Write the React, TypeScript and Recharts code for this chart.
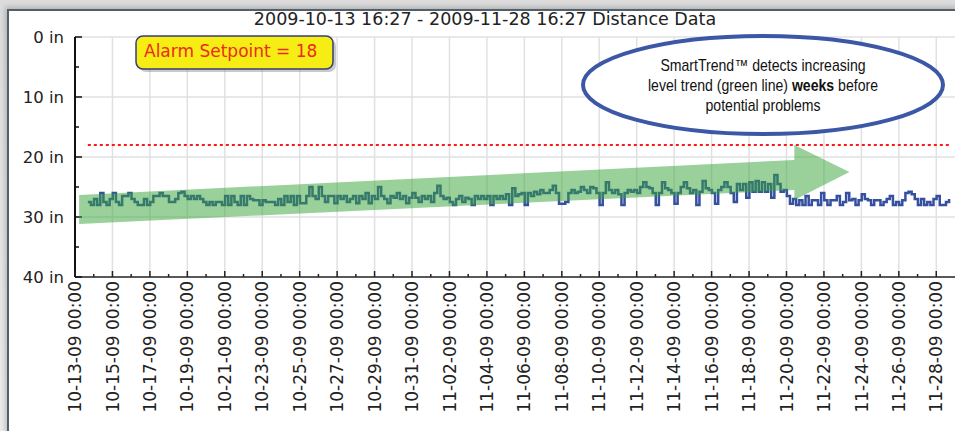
import React from "react";
import { ComposedChart, Line, Area, XAxis, YAxis, ReferenceLine } from "recharts";

// days are counted from 2009-10-13 00:00
const START_DAY = 0.685; // 16:27
const STEP_DAYS = 1 / 6; // one reading every 4 hours
const ALARM = 18;

const week1 = [27.5, 28, 27, 28, 26, 27.5, 28, 27, 26, 27.5, 28, 26.5, 26.5, 26, 27, 27.5, 28, 28, 27, 28, 27.5, 26.5, 26.5, 26, 26.5, 26.5, 27.5, 27.5, 27, 26, 25.8, 26.5, 27, 26.5, 27, 26.5, 27, 27.5, 28, 27.5, 28, 27.5];
const week2 = [27.5, 28, 26.5, 28, 26.5, 27.5, 28, 26.5, 28, 26.5, 27, 27.2, 27.2, 28, 27.2, 27.5, 27.5, 27.5, 28, 27, 28, 26.5, 27.5, 26.5, 28, 26.5, 27.7, 27.7, 26.5, 25, 26.5, 27, 25, 26.5, 27.5, 26.5, 26.5, 27.7, 26.5, 27, 26.5, 27.5];
const week3 = [27, 26.5, 27.7, 26.5, 27, 26, 27.7, 26.5, 27, 25, 26.5, 27, 27.7, 26.5, 26.8, 26, 27, 26.5, 27.7, 26.8, 26, 26.8, 27.5, 26.5, 27, 26.5, 27.5, 26, 24.8, 26.5, 27, 26.8, 27.5, 28, 27, 26.5, 27.5, 26.8, 27, 28, 26.5, 27];
const week4 = [26.5, 27, 26.5, 28, 26.5, 27, 26.5, 27, 26.2, 28, 25.2, 26.5, 26.2, 26, 28, 26, 26.5, 25.8, 26.2, 25.5, 26, 26, 25.5, 24.8, 26, 27.8, 27.8, 27.5, 26, 25.5, 26, 25.8, 25, 25.5, 26, 25, 25.2, 26, 28, 26, 24.2, 25.5];
const week5 = [26, 25.5, 26.2, 28, 26, 25.5, 25.8, 25.5, 26, 25, 24.2, 25, 25.2, 26, 28, 26, 24.2, 25.2, 25.5, 26, 27.8, 26, 25, 24.2, 25.2, 26, 25.5, 28, 25.8, 24, 25.2, 25.5, 26, 27.8, 25.5, 25, 24.2, 25, 26, 27.5, 24.5, 25.5];
const week6 = [24.5, 26.8, 24.2, 25.8, 24, 25.8, 24.2, 25.8, 24.5, 26.8, 23, 24.5, 25.8, 25.5, 26.5, 27.8, 27, 28, 27.2, 28, 26.5, 28, 27.2, 27.2, 28, 26, 27.2, 28, 27.2, 27.2, 26.5, 28, 27.5, 26, 27.2, 27, 28, 27.2, 26.2, 27, 27.2, 28];
const week7 = [27.2, 27.2, 28, 27.5, 27, 26.5, 28, 27.5, 28, 27.2, 26, 25.8, 26.2, 27, 28, 27, 28, 27.5, 28, 27, 26.5, 28, 28, 27.5, 27];

const distance = [...week1, ...week2, ...week3, ...week4, ...week5, ...week6, ...week7];
const data = distance.map((v, i) => ({ t: START_DAY + i * STEP_DAYS, v }));
const END_DAY = START_DAY + (distance.length - 1) * STEP_DAYS;

// trend arrow outline (day, top value, bottom value)
const arrowDays = [0.22, 38.42, 38.42, 41.36];
const arrowTop = [26.33, 20.5, 18.0, 22.5];
const arrowBottom = [31.17, 25.5, 27.17, 22.5];
const arrowData = arrowDays.map((t, i) => ({ t, band: [arrowTop[i], arrowBottom[i]] }));

const dayTicks = Array.from({ length: 47 }, (_, i) => i);
const majorDays = dayTicks.filter((d) => d % 2 === 0);
const tickLabels = [
  "10-13-09 00:00", "10-15-09 00:00", "10-17-09 00:00", "10-19-09 00:00",
  "10-21-09 00:00", "10-23-09 00:00", "10-25-09 00:00", "10-27-09 00:00",
  "10-29-09 00:00", "10-31-09 00:00", "11-02-09 00:00", "11-04-09 00:00",
  "11-06-09 00:00", "11-08-09 00:00", "11-10-09 00:00", "11-12-09 00:00",
  "11-14-09 00:00", "11-16-09 00:00", "11-18-09 00:00", "11-20-09 00:00",
  "11-22-09 00:00", "11-24-09 00:00", "11-26-09 00:00", "11-28-09 00:00",
];
const yTicks = [0, 5, 10, 15, 20, 25, 30, 35, 40];
const yGrid = [0, 10, 20, 30];

const FONT = "'DejaVu Sans', sans-serif";
const X_DOMAIN: [number, number] = [0, 47];
const Y_DOMAIN: [number, number] = [0, 40];

function XTick({ x, y, payload }: any) {
  const day = payload.value;
  const major = day % 2 === 0;
  return (
    <g>
      <line x1={x} x2={x} y1={y} y2={y - (major ? 6 : 3)} stroke="#222" strokeWidth={1.5} />
      {major && (
        <text
          transform={`translate(${x},${y + 4}) rotate(-90)`}
          textAnchor="end"
          dy="0.36em"
          fontSize={17}
          fontFamily={FONT}
          fill="#222"
        >
          {tickLabels[day / 2]}
        </text>
      )}
    </g>
  );
}

function YTick({ x, y, payload }: any) {
  const major = payload.value % 10 === 0;
  return (
    <g>
      <line x1={x} x2={x + (major ? 7 : 4)} y1={y} y2={y} stroke="#111" strokeWidth={1.5} />
      {major && (
        <text x={x - 11} y={y} dy={6} textAnchor="end" fontSize={16.5} fontFamily={FONT} fill="#222">
          {payload.value} in
        </text>
      )}
    </g>
  );
}

export default function App() {
  return (
    <div style={{ position: "absolute", left: 0, top: 0, width: 955, height: 431, overflow: "hidden", background: "linear-gradient(#dcdcdc, #ececec)" }}>
      <div
        style={{
          position: "absolute",
          left: 7,
          top: 9,
          right: -4,
          bottom: -4,
          background: "#fff",
          borderLeft: "2px solid #52606b",
          borderTop: "2px solid #52606b",
          boxShadow: "-2px -2px 5px rgba(0,0,0,0.2)",
        }}
      />
      <div style={{ position: "absolute", left: 0, top: 0 }}>
        <ComposedChart width={955} height={431} margin={{ top: 37, right: 0, bottom: 0, left: 0 }}>
          {majorDays.map((d) => (
            <ReferenceLine key={`gx${d}`} x={d} stroke="#e1e1e1" strokeWidth={1.5} />
          ))}
          {yGrid.map((v) => (
            <ReferenceLine key={`gy${v}`} y={v} stroke="#e1e1e1" strokeWidth={1.5} />
          ))}
          <XAxis
            type="number"
            dataKey="t"
            domain={X_DOMAIN}
            ticks={dayTicks}
            interval={0}
            height={154}
            tickSize={0}
            tickMargin={0}
            tick={<XTick />}
            tickLine={false}
            axisLine={{ stroke: "#222", strokeWidth: 1.5 }}
            allowDataOverflow
          />
          <YAxis
            type="number"
            reversed
            domain={Y_DOMAIN}
            ticks={yTicks}
            interval={0}
            width={75}
            tickSize={0}
            tickMargin={0}
            tick={<YTick />}
            tickLine={false}
            axisLine={{ stroke: "#111", strokeWidth: 2 }}
          />
          <ReferenceLine
            segment={[{ x: START_DAY, y: ALARM }, { x: END_DAY, y: ALARM }]}
            stroke="#ff1a1a"
            strokeWidth={2}
            strokeDasharray="3 3"
          />
          <Line
            data={data}
            dataKey="v"
            type="stepAfter"
            stroke="#3650a0"
            strokeWidth={2.5}
            dot={false}
            isAnimationActive={false}
          />
        </ComposedChart>
      </div>
      {/* trend arrow drawn on top of the readings, same plot area and scales */}
      <div style={{ position: "absolute", left: 0, top: 0, pointerEvents: "none" }}>
        <ComposedChart width={955} height={431} margin={{ top: 37, right: 0, bottom: 154, left: 75 }}>
          <XAxis type="number" dataKey="t" domain={X_DOMAIN} hide allowDataOverflow />
          <YAxis type="number" reversed domain={Y_DOMAIN} hide />
          <Area
            data={arrowData}
            dataKey="band"
            type="linear"
            stroke="none"
            fill="#35a335"
            fillOpacity={0.5}
            isAnimationActive={false}
          />
        </ComposedChart>
      </div>
      <svg width={955} height={431} style={{ position: "absolute", left: 0, top: 0, pointerEvents: "none" }}>
        <text x={485} y={25} textAnchor="middle" fontSize={17.5} fontFamily={FONT} fill="#222">
          2009-10-13 16:27 - 2009-11-28 16:27 Distance Data
        </text>
        <rect x={139} y={39} width={197} height={33} rx={7} fill="#888" opacity={0.45} />
        <rect x={136} y={36} width={197} height={33} rx={7} fill="#f5ed14" stroke="#363c7c" strokeWidth={1.5} />
        <text x={144} y={57} fontSize={17} fontFamily={FONT} fill="#ee2a1c">
          Alarm Setpoint = 18
        </text>
        <ellipse cx={763} cy={85} rx={180} ry={49} fill="#fff" stroke="#3b57a6" strokeWidth={4} />
        <g fontFamily="'Liberation Sans', Arial, sans-serif" fontSize={16} fill="#111" textAnchor="middle">
          <text transform="translate(763,71) scale(0.88,1)">SmartTrend™ detects increasing</text>
          <text transform="translate(763,91) scale(0.88,1)">
            level trend (green line) <tspan fontWeight="bold">weeks</tspan> before
          </text>
          <text transform="translate(763,111) scale(0.88,1)">potential problems</text>
        </g>
      </svg>
    </div>
  );
}
